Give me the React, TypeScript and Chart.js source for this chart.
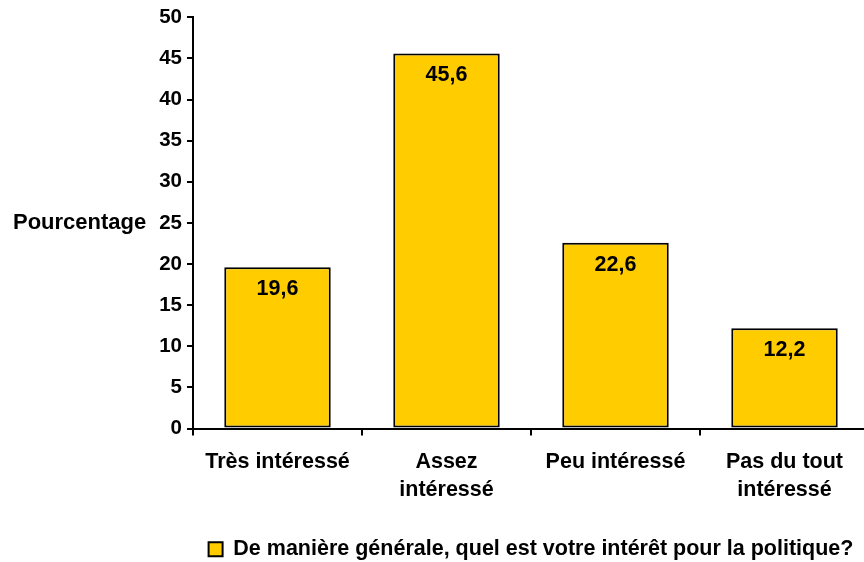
import React, { useEffect, useRef } from "react";
import { Chart, registerables } from "chart.js";

Chart.register(...registerables);

const categories: (string | string[])[] = [
  "Très intéressé",
  ["Assez", "intéressé"],
  "Peu intéressé",
  ["Pas du tout", "intéressé"],
];
const values: number[] = [19.6, 45.6, 22.6, 12.2];
const seriesLabel = "De manière générale, quel est votre intérêt pour la politique?";
const yTitle = "Pourcentage";
const yMin = 0;
const yMax = 50;
const yStep = 5;

const FONT = "'Liberation Sans', Arial, Helvetica, sans-serif";
const BAR_COLOR = "#FFCC00";

const formatFr = (v: number) => v.toFixed(1).replace(".", ",");

// Value labels inside each bar, near its top
const valueLabels = {
  id: "valueLabels",
  afterDatasetsDraw(chart: any) {
    const ctx = chart.ctx;
    const meta = chart.getDatasetMeta(0);
    ctx.save();
    ctx.font = `bold 21.5px ${FONT}`;
    ctx.fillStyle = "#000";
    ctx.textAlign = "center";
    ctx.textBaseline = "middle";
    meta.data.forEach((bar: any, i: number) => {
      ctx.fillText(formatFr(values[i]), bar.x, bar.y + 22);
    });
    ctx.restore();
  },
};

// Horizontal y-axis title left of the tick labels
const yAxisTitle = {
  id: "yAxisTitle",
  afterDraw(chart: any) {
    const ctx = chart.ctx;
    const y = chart.scales.y;
    ctx.save();
    ctx.font = `bold 22px ${FONT}`;
    ctx.fillStyle = "#000";
    ctx.textAlign = "left";
    ctx.textBaseline = "middle";
    ctx.fillText(yTitle, 13, y.getPixelForValue(25));
    ctx.restore();
  },
};

export default function App() {
  const ref = useRef<HTMLCanvasElement>(null);

  useEffect(() => {
    if (!ref.current) return;
    const chart = new Chart(ref.current, {
      type: "bar",
      data: {
        labels: categories,
        datasets: [
          {
            label: seriesLabel,
            data: values,
            backgroundColor: BAR_COLOR,
            borderColor: "#000",
            borderWidth: 2,
            borderSkipped: false,
            barPercentage: 1,
            categoryPercentage: 0.63,
          },
        ],
      },
      options: {
        animation: false,
        responsive: false,
        maintainAspectRatio: false,
        layout: { padding: { top: 11, right: 1, left: 0, bottom: -8 } },
        plugins: {
          tooltip: { enabled: false },
          legend: {
            display: true,
            position: "bottom",
            fullSize: false,
            labels: {
              color: "#000",
              font: { family: FONT, size: 21.5, weight: "bold" },
              boxWidth: 14,
              boxHeight: 14,
              padding: 0,
            },
          },
        },
        scales: {
          x: {
            grid: {
              display: true,
              drawOnChartArea: false,
              drawTicks: true,
              tickLength: 7,
              color: "#000",
              lineWidth: 2,
              offset: true,
            },
            border: { display: true, color: "#000", width: 2 },
            ticks: {
              color: "#000",
              font: { family: FONT, size: 21.5, weight: "bold", lineHeight: 1.33 },
              padding: 12,
              maxRotation: 0,
              autoSkip: false,
            },
            afterFit: (scale: any) => {
              scale.height = 110;
            },
          },
          y: {
            min: yMin,
            max: yMax,
            ticks: {
              stepSize: yStep,
              color: "#000",
              font: { family: FONT, size: 20.5, weight: "bold" },
              padding: 5,
            },
            grid: {
              display: true,
              drawOnChartArea: false,
              drawTicks: true,
              tickLength: 6,
              color: "#000",
              lineWidth: 2,
            },
            border: { display: true, color: "#000", width: 2 },
            afterFit: (scale: any) => {
              scale.width = 193;
            },
          },
        },
      },
      plugins: [valueLabels, yAxisTitle],
    });
    return () => chart.destroy();
  }, []);

  return (
    <div
      style={{
        position: "fixed",
        left: 0,
        top: 0,
        width: 870,
        height: 562,
        background: "#fff",
        overflow: "hidden",
      }}
    >
      <canvas ref={ref} width={870} height={562} style={{ width: 870, height: 562 }} />
    </div>
  );
}
